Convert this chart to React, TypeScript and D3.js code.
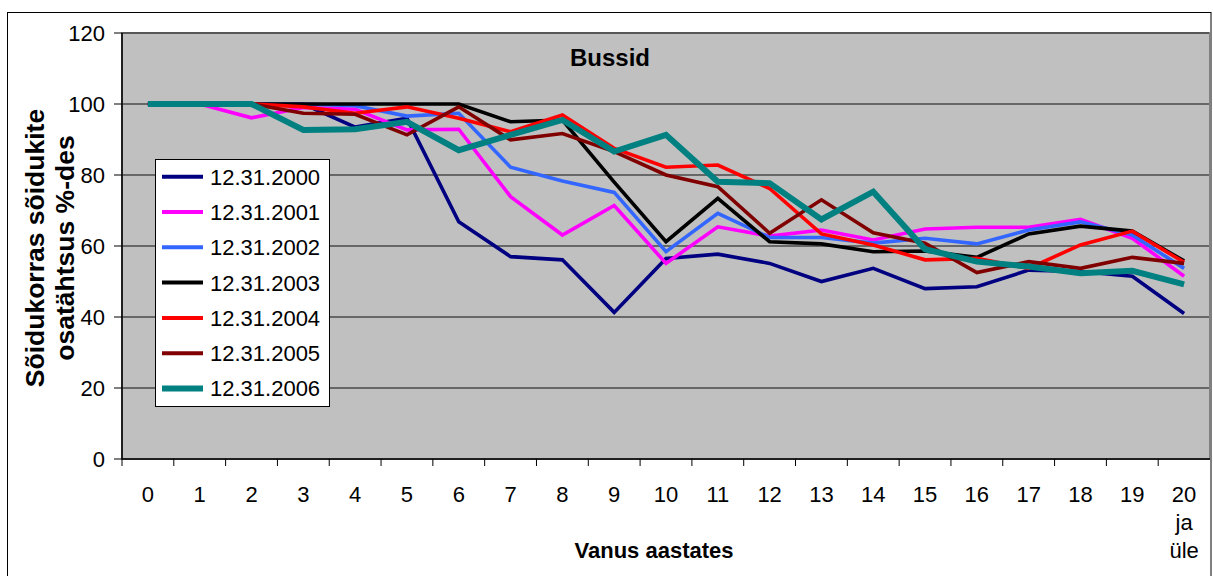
import React from "react";
import * as d3 from "d3";

const categories = ["0","1","2","3","4","5","6","7","8","9","10","11","12","13","14","15","16","17","18","19","20 ja üle"];
const yTicks = [0, 20, 40, 60, 80, 100, 120];

const seriesNames = ["12.31.2000","12.31.2001","12.31.2002","12.31.2003","12.31.2004","12.31.2005","12.31.2006"];
const s2000 = [100,100,100,100,93.5,96,66.8,57.0,56.1,41.3,56.5,57.7,55.1,50.0,53.7,48.0,48.5,53.2,52.8,51.5,41.0];
const s2001 = [100,100,96.1,99,98.5,92.7,92.9,73.9,63.1,71.4,55.1,65.4,62.8,64.5,61.7,64.8,65.3,65.3,67.5,62.2,51.5];
const s2002 = [100,100,100,100,99.5,96.6,97.4,82.2,78.3,75.1,58.4,69.2,62.4,62.4,60.8,62.2,60.6,64.5,66.8,63.1,53.7];
const s2003 = [100,100,100,100,100,100,100,95,95.5,78,61.2,73.4,61.2,60.6,58.4,58.6,56.8,63.4,65.6,64.2,55.8];
const s2004 = [100,100,100,99.2,97.4,99.2,96,92.2,96.9,87.5,82.2,82.8,76.2,63.4,60.3,56.1,56.5,53.7,60.3,64.2,55.4];
const s2005 = [100,100,100,97.4,97.1,91.3,99.2,89.9,91.7,86.6,80,76.7,63.6,73,63.7,60.8,52.5,55.6,53.7,56.8,55.1];
const s2006 = [100,100,100,92.7,92.9,95,87,91.3,95.5,86.6,91.3,78.1,77.7,67.5,75.3,59.1,55.6,54.2,52.3,53,49.2];
const seriesValues = [s2000, s2001, s2002, s2003, s2004, s2005, s2006];
const seriesColors = ["#000080","#FF00FF","#3366FF","#000000","#FF0000","#800000","#008080"];
const seriesWidths = [3.6, 3.6, 3.6, 3.6, 3.6, 3.6, 6];

const FONT = "'Liberation Sans', Arial, sans-serif";

export default function App() {
  const W = 1213, H = 576;
  const plot = { left: 122, right: 1210, top: 33, bottom: 459 };
  const x = d3.scaleBand<string>().domain(categories).range([plot.left, plot.right]).paddingInner(0).paddingOuter(0);
  const y = d3.scaleLinear().domain([0, 120]).range([plot.bottom, plot.top]);
  const cx = (c: string) => (x(c) as number) + x.bandwidth() / 2;
  const line = d3.line<number>().x((_, i) => cx(categories[i])).y((v) => y(v));

  const legend = { x: 155, y: 159, w: 174, h: 247 };
  const legendRowY = (i: number) => 176.7 + 35.3 * i;

  return (
    <svg width={W} height={H} style={{ position: "absolute", left: 0, top: 0, background: "#fff" }} fontFamily={FONT}>
      <rect x={0} y={0} width={W} height={H} fill="#fff" />
      {/* outer border */}
      <rect x={7.5} y={12.5} width={1203.5} height={600} fill="none" stroke="#000" strokeWidth={1} />
      {/* plot area */}
      <rect x={plot.left} y={plot.top} width={plot.right - plot.left} height={plot.bottom - plot.top} fill="#C0C0C0" stroke="#808080" strokeWidth={2} />
      {/* gridlines */}
      {yTicks.filter((t) => t > 0).map((t) => (
        <line key={t} x1={plot.left} x2={plot.right - 1} y1={y(t)} y2={y(t)} stroke="#4a4a4a" strokeWidth={1.5} />
      ))}
      {/* y axis */}
      <line x1={plot.left} x2={plot.left} y1={plot.top} y2={plot.bottom} stroke="#000" strokeWidth={1.5} />
      {yTicks.map((t) => (
        <g key={t}>
          <line x1={plot.left - 8} x2={plot.left} y1={y(t)} y2={y(t)} stroke="#000" strokeWidth={1} />
          <text x={105} y={y(t)} dy="0.36em" textAnchor="end" fontSize={22} fill="#000">{t}</text>
        </g>
      ))}
      {/* x axis */}
      <line x1={plot.left} x2={plot.right} y1={plot.bottom} y2={plot.bottom} stroke="#000" strokeWidth={1.5} />
      {categories.map((c) => (
        <line key={"t" + c} x1={x(c) as number} x2={x(c) as number} y1={plot.bottom} y2={plot.bottom + 7} stroke="#000" strokeWidth={1} />
      ))}
      {categories.map((c) => (
        <text key={"l" + c} x={cx(c)} y={502} textAnchor="middle" fontSize={22} fill="#000">
          {c.split(" ").map((p, i) => (
            <tspan key={i} x={cx(c)} dy={i === 0 ? 0 : 28}>{p}</tspan>
          ))}
        </text>
      ))}
      {/* series */}
      {seriesValues.map((vals, i) => (
        <path key={seriesNames[i]} d={line(vals) || ""} fill="none" stroke={seriesColors[i]} strokeWidth={seriesWidths[i]} strokeLinejoin="miter" />
      ))}
      {/* title */}
      <text x={610} y={66} textAnchor="middle" fontSize={24} fontWeight="bold" fill="#000">Bussid</text>
      {/* axis titles */}
      <text x={654} y={558} textAnchor="middle" fontSize={22} fontWeight="bold" fill="#000">Vanus aastates</text>
      <g transform={`translate(44, 248) rotate(-90)`}>
        <text x={0} y={0} textAnchor="middle" fontSize={26.5} fontWeight="bold" fill="#000">Sõidukorras sõidukite</text>
        <text x={0} y={30} textAnchor="middle" fontSize={26.5} fontWeight="bold" fill="#000">osatähtsus %-des</text>
      </g>
      {/* legend */}
      <rect x={legend.x + 0.5} y={legend.y + 0.5} width={legend.w} height={legend.h} fill="#fff" stroke="#000" strokeWidth={1} />
      {seriesNames.map((n, i) => (
        <g key={n}>
          <line x1={162} x2={203} y1={legendRowY(i)} y2={legendRowY(i)} stroke={seriesColors[i]} strokeWidth={seriesWidths[i] === 6 ? 6 : 4} />
          <text x={210} y={legendRowY(i)} dy="0.36em" fontSize={22} fill="#000">{n}</text>
        </g>
      ))}
    </svg>
  );
}
